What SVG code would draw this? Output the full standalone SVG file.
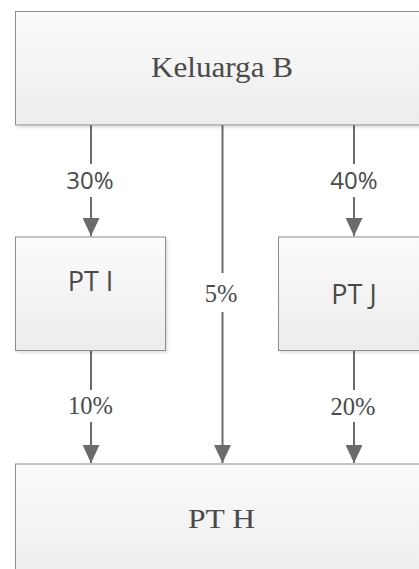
<svg xmlns="http://www.w3.org/2000/svg" width="419" height="569" viewBox="0 0 419 569">
<defs>
<linearGradient id="boxfill" x1="0" y1="0" x2="0" y2="1">
<stop offset="0" stop-color="#fbfbfb"/>
<stop offset="1" stop-color="#ececec"/>
</linearGradient>
<filter id="shadow" x="-10%" y="-10%" width="130%" height="130%">
<feDropShadow dx="2" dy="2" stdDeviation="1.5" flood-color="#000" flood-opacity="0.12"/>
</filter>
<marker id="arrow" viewBox="0 0 18 17" refX="18" refY="8.5" markerWidth="18" markerHeight="17" markerUnits="userSpaceOnUse" orient="auto">
<path d="M0,0 L18,8.5 L0,17 Z" fill="#6b6b6b"/>
</marker>
</defs>
<style>
.box{fill:url(#boxfill);stroke:#8c8c8c;stroke-width:1;filter:url(#shadow)}
.conn{stroke:#6b6b6b;stroke-width:2;fill:none}
text{fill:#4a4a4a}
</style>
<rect width="419" height="569" fill="#ffffff"/>
<g id="connectors">
<line class="conn" x1="91" y1="125" x2="91" y2="164"/>
<line class="conn" x1="91" y1="197" x2="91" y2="236" marker-end="url(#arrow)"/>
<text font-family="Open Sans" x="90" y="189" font-size="24" text-anchor="middle">30%</text>
<line class="conn" x1="354" y1="125" x2="354" y2="164"/>
<line class="conn" x1="354" y1="197" x2="354" y2="236" marker-end="url(#arrow)"/>
<text font-family="Open Sans" x="354" y="189" font-size="24" text-anchor="middle">40%</text>
<line class="conn" x1="222.5" y1="125" x2="222.5" y2="273"/>
<line class="conn" x1="222.5" y1="312" x2="222.5" y2="463" marker-end="url(#arrow)"/>
<text font-family="Liberation Serif" x="221" y="302" font-size="24.5" text-anchor="middle">5%</text>
<line class="conn" x1="91" y1="351" x2="91" y2="390"/>
<line class="conn" x1="91" y1="422" x2="91" y2="463" marker-end="url(#arrow)"/>
<text font-family="Liberation Serif" x="90.5" y="414" font-size="24.5" text-anchor="middle">10%</text>
<line class="conn" x1="354" y1="351" x2="354" y2="390"/>
<line class="conn" x1="354" y1="422" x2="354" y2="463" marker-end="url(#arrow)"/>
<text font-family="Liberation Serif" x="353" y="415" font-size="24.5" text-anchor="middle">20%</text>
</g>
<g id="keluarga-b">
<rect class="box" x="15.5" y="11.5" width="430" height="113.5"/>
<text font-family="Liberation Serif" x="222" y="77" font-size="30" text-anchor="middle" textLength="142" lengthAdjust="spacingAndGlyphs">Keluarga B</text>
</g>
<g id="pt-i">
<rect class="box" x="15.5" y="237" width="150" height="113.5"/>
<text font-family="Open Sans" x="90.5" y="291" font-size="27" text-anchor="middle">PT I</text>
</g>
<g id="pt-j">
<rect class="box" x="278.5" y="237" width="160" height="113.5"/>
<text font-family="Open Sans" x="354" y="304" font-size="27" text-anchor="middle">PT J</text>
</g>
<g id="pt-h">
<rect class="box" x="15.5" y="464" width="430" height="120"/>
<text font-family="Liberation Serif" x="221.5" y="528" font-size="27" text-anchor="middle" textLength="67" lengthAdjust="spacingAndGlyphs">PT H</text>
</g>
</svg>
